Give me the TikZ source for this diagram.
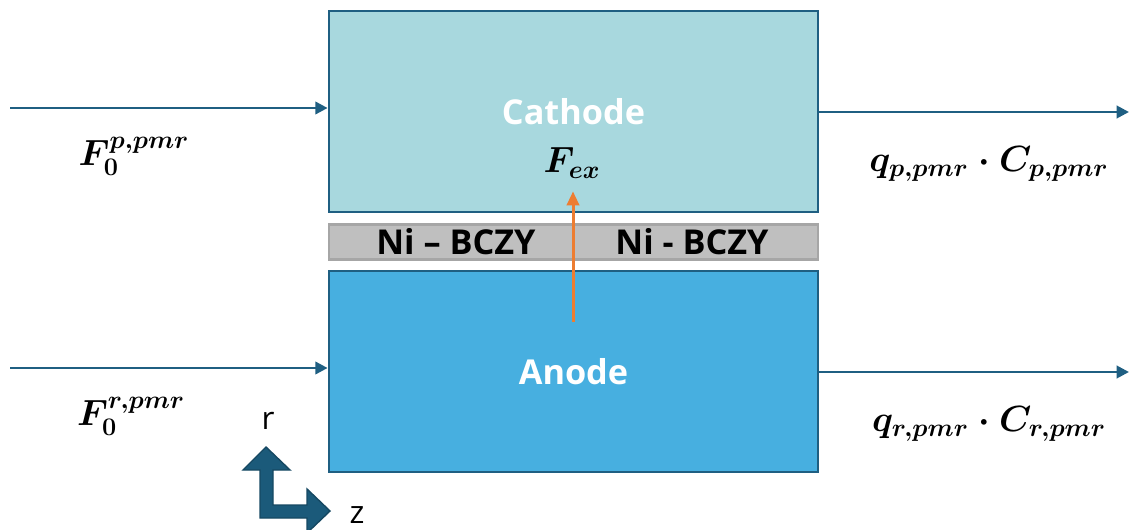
\documentclass[tikz,border=0pt]{standalone}
\usepackage{amsmath}
\usepackage{fontspec}
\setsansfont{Open Sans}
\usetikzlibrary{arrows.meta}
\definecolor{cathfill}{HTML}{A8D8DE}
\definecolor{anofill}{HTML}{47AFE0}
\definecolor{edgeblue}{HTML}{1F5F82}
\definecolor{bargray}{HTML}{BFBFBF}
\definecolor{baredge}{HTML}{A6A6A6}
\definecolor{fluxorange}{HTML}{ED7D31}
\definecolor{axisblue}{HTML}{1B5A7A}
\begin{document}
\begin{tikzpicture}[x=0.02cm,y=-0.02cm]
  \tikzset{cell/.style={draw=edgeblue,line width=1.6pt,minimum width=9.78cm,minimum height=4.02cm,inner sep=0pt,
      text=white,font=\sffamily\bfseries\fontsize{19.5}{22}\selectfont},
    flow/.style={draw=edgeblue,line width=1.6pt,-{Triangle[length=7pt,width=7pt]}},
    lbl/.style={font=\fontsize{20.5}{24}\selectfont},
    bar/.style={font=\sffamily\bfseries\fontsize{19.5}{22}\selectfont}}
  \useasboundingbox (0,0) rectangle (1129,530);
  \node[cell,fill=cathfill] (cath) at (573.5,111.5) {Cathode};
  \node[cell,fill=anofill] (ano) at (573.5,371.5) {Anode};
  \node[draw=baredge,fill=bargray,line width=1.4pt,minimum width=9.78cm,minimum height=0.7cm,inner sep=0pt] (mem) at (573.5,242) {};
  \node[bar] (niL) at (456,242) {Ni -- BCZY};
  \node[bar] (niR) at (692,242) {Ni - BCZY};
  \node[lbl] (fex) at (572,163) {$\boldsymbol{F_{ex}}$};
  % feed and outlet streams
  \coordinate (pin) at (10,108);
  \coordinate (pout) at (1129,112);
  \coordinate (rin) at (10,368);
  \coordinate (rout) at (1129,372);
  \draw[flow] (pin) -- (pin -| cath.west);
  \draw[flow] (pout -| cath.east) -- (pout);
  \draw[flow] (rin) -- (rin -| ano.west);
  \draw[flow] (rout -| ano.east) -- (rout);
  \node[lbl] (fp) at (134,156) {$\boldsymbol{F_0^{p,pmr}}$};
  \node[lbl] (fr) at (131,416) {$\boldsymbol{F_0^{r,pmr}}$};
  \node[lbl] (qp) at (989,164) {$\boldsymbol{q_{p,pmr}\cdot C_{p,pmr}}$};
  \node[lbl] (qr) at (989,424) {$\boldsymbol{q_{r,pmr}\cdot C_{r,pmr}}$};
  % exchange flux
  \coordinate (fbot) at (573,322);
  \draw[draw=fluxorange,line width=1.7pt,-{Triangle[length=8pt,width=7pt]}] (fbot) -- (fbot |- cath.south) -- ++(0,-22);
  % r-z axes
  \draw[fill=axisblue,draw=axisblue!80!black,line width=0.8pt] (266,447) -- (290,470) -- (273,470) -- (273,505)
    -- (307,505) -- (307,489) -- (330,511) -- (307,533) -- (307,518) -- (260,518) -- (260,470) -- (243,470) -- cycle;
  \node[font=\sffamily\fontsize{18}{20}\selectfont] (rr) at (268,421) {r};
  \node[font=\sffamily\fontsize{18}{20}\selectfont] (zz) at (357,515) {z};
\end{tikzpicture}
\end{document}
